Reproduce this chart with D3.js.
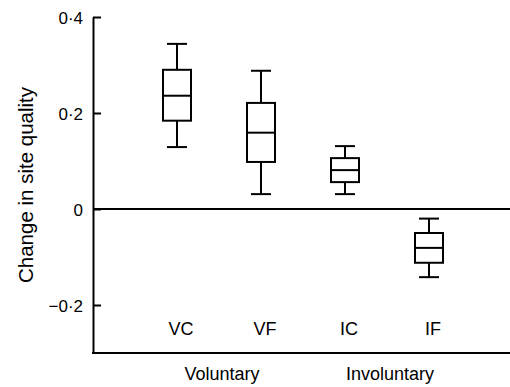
<!DOCTYPE html>
<html>
<head>
<meta charset="utf-8">
<script src="https://cdn.jsdelivr.net/npm/d3@7"></script>
<style>
  body { margin: 0; background: #fff; }
  text { font-family: "Liberation Sans", Arial, Helvetica, sans-serif; fill: #000; }
</style>
</head>
<body>
<div id="chart"></div>
<script>
// box plot summaries
const categories = ["VC", "VF", "IC", "IF"];
const groups = ["Voluntary", "Voluntary", "Involuntary", "Involuntary"];
const whiskerHigh = [0.344, 0.288, 0.131, -0.020];
const q3 = [0.290, 0.221, 0.106, -0.050];
const medians = [0.236, 0.159, 0.081, -0.081];
const q1 = [0.184, 0.098, 0.056, -0.112];
const whiskerLow = [0.129, 0.031, 0.031, -0.142];
const yTicks = [-0.2, 0, 0.2, 0.4];

const width = 510, height = 387;

const svg = d3.select("#chart").append("svg")
    .attr("width", width)
    .attr("height", height);

const y = d3.scaleLinear()
    .domain([-0.3, 0.4])
    .range([353, 17]);

const x = d3.scaleBand()
    .domain(categories)
    .range([135, 471])
    .padding(0);

const cx = c => x(c) + x.bandwidth() / 2;

const fmt = d => d === 0 ? "0" : d3.format(".1f")(d).replace(".", "\u00b7").replace("-", "\u2212");

// y axis, ticks pointing inward
const yAxis = svg.append("g")
    .attr("transform", "translate(93,0)")
    .call(d3.axisLeft(y)
        .tickValues(yTicks)
        .tickFormat(fmt)
        .tickSizeInner(-8)
        .tickSizeOuter(0)
        .tickPadding(10));
yAxis.select(".domain").attr("stroke-width", 2);
yAxis.selectAll(".tick line").attr("stroke-width", 2);
yAxis.selectAll(".tick text")
    .style("font-size", "17px")
    .attr("dy", "0.36em");

// bottom line and zero line
svg.append("line")
    .attr("x1", 92).attr("x2", width)
    .attr("y1", y(-0.3)).attr("y2", y(-0.3))
    .attr("stroke", "#000").attr("stroke-width", 2);

svg.append("line")
    .attr("x1", 93).attr("x2", width)
    .attr("y1", y(0)).attr("y2", y(0))
    .attr("stroke", "#000").attr("stroke-width", 2);

// y title
svg.append("text")
    .attr("transform", `translate(33,${(17 + 353) / 2}) rotate(-90)`)
    .attr("text-anchor", "middle")
    .style("font-size", "20.5px")
    .text("Change in site quality");

const boxW = 28, capW = 20;

const boxes = svg.append("g")
    .selectAll("g")
    .data(categories)
    .join("g");

boxes.each(function(c, i) {
    const g = d3.select(this);
    const xc = cx(c);
    const line = (x1, y1, x2, y2) => g.append("line")
        .attr("x1", x1).attr("y1", y1).attr("x2", x2).attr("y2", y2)
        .attr("stroke", "#000").attr("stroke-width", 2);

    // whiskers
    line(xc, y(whiskerHigh[i]), xc, y(q3[i]));
    line(xc, y(q1[i]), xc, y(whiskerLow[i]));
    line(xc - capW / 2, y(whiskerHigh[i]), xc + capW / 2, y(whiskerHigh[i]));
    line(xc - capW / 2, y(whiskerLow[i]), xc + capW / 2, y(whiskerLow[i]));

    g.append("rect")
        .attr("x", xc - boxW / 2)
        .attr("y", y(q3[i]))
        .attr("width", boxW)
        .attr("height", y(q1[i]) - y(q3[i]))
        .attr("fill", "none")
        .attr("stroke", "#000")
        .attr("stroke-width", 2);

    line(xc - boxW / 2, y(medians[i]), xc + boxW / 2, y(medians[i]));
});

// category labels
svg.append("g")
    .selectAll("text")
    .data(categories)
    .join("text")
    .attr("x", d => cx(d) + 4)
    .attr("y", 335)
    .attr("text-anchor", "middle")
    .style("font-size", "18px")
    .text(d => d);

// group labels under the axis
const groupNames = Array.from(new Set(groups));
svg.append("g")
    .selectAll("text")
    .data(groupNames)
    .join("text")
    .attr("x", gname => d3.mean(categories.filter((c, i) => groups[i] === gname), cx) + 3)
    .attr("y", 380)
    .attr("text-anchor", "middle")
    .style("font-size", "18px")
    .text(d => d);
</script>
</body>
</html>
